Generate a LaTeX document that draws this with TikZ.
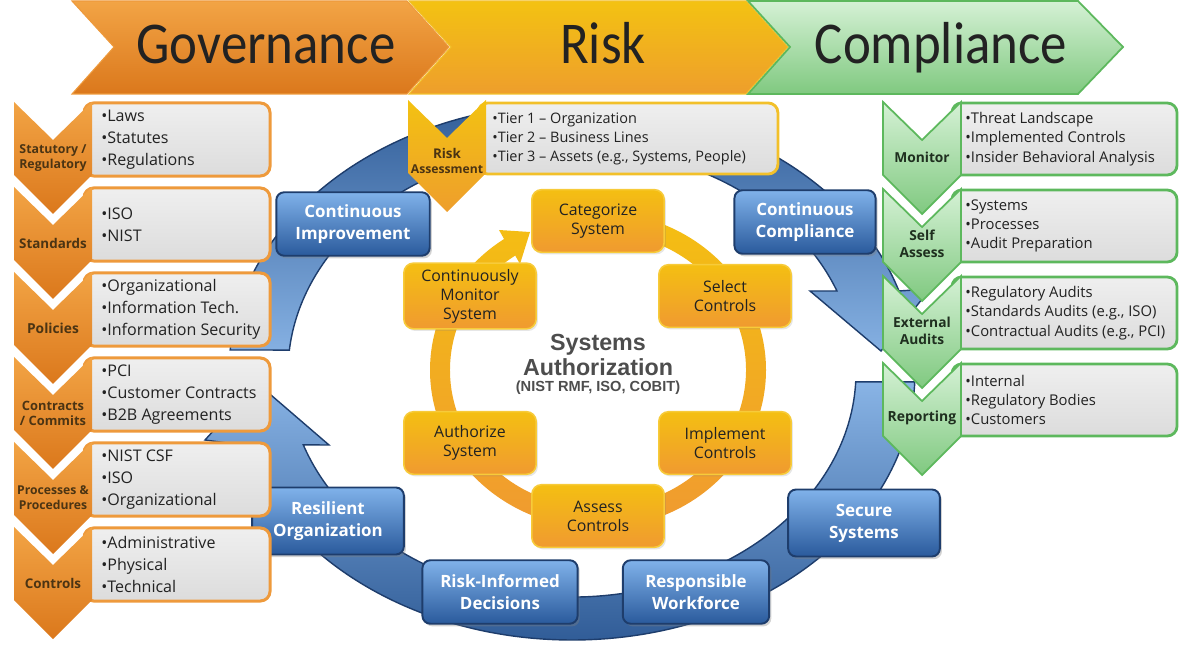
\documentclass[tikz,border=0pt]{standalone}
\usepackage{fontspec}
\setmainfont{Open Sans}
\newfontfamily\headfont{Carlito}
\newfontfamily\arialfont{Liberation Sans}
\usetikzlibrary{calc,shadows}

\definecolor{govtop}{HTML}{F2A445}
\definecolor{govbot}{HTML}{DB781C}
\definecolor{govedge}{HTML}{EE9A3C}
\definecolor{risktop}{HTML}{F3C212}
\definecolor{riskbot}{HTML}{EE9E2C}
\definecolor{riskedge}{HTML}{F2C02A}
\definecolor{comptop}{HTML}{D5F1D5}
\definecolor{compbot}{HTML}{80C980}
\definecolor{compedge}{HTML}{5DB85D}
\definecolor{boxtop}{HTML}{EFEFEF}
\definecolor{boxbot}{HTML}{DCDCDC}
\definecolor{bluetop}{HTML}{80B2EA}
\definecolor{bluebot}{HTML}{2A5A9C}
\definecolor{blueedge}{HTML}{1E3D6C}
\definecolor{ringdark}{HTML}{2F5B96}
\definecolor{ringlight}{HTML}{8CB7E8}
\definecolor{ybtop}{HTML}{F4BF12}
\definecolor{ybbot}{HTML}{F09A30}
\definecolor{ybedge}{HTML}{F7CB3A}
\definecolor{ink}{HTML}{222222}
\definecolor{govink}{HTML}{4B3413}
\definecolor{compink}{HTML}{1F2F1F}
\definecolor{centergray}{HTML}{4D4D4D}

\begin{document}
\begin{tikzpicture}[
            x=0.567pt, y=-0.567pt,
            govbar/.style = {top color=govtop, bottom color=govbot, draw=govedge, line width=0.6pt},
            riskbar/.style = {top color=risktop, bottom color=riskbot, draw=riskedge, line width=0.6pt},
            compbar/.style = {top color=comptop, bottom color=compbot, draw=compedge, line width=1pt},
            headtext/.style = {font=\headfont\fontsize{30}{30}\selectfont, text=ink, anchor=base, inner sep=0pt},
            govchev/.style = {top color=govtop, bottom color=govbot},
            riskchev/.style = {top color=risktop, bottom color=riskbot},
            compchev/.style = {top color=comptop, bottom color=compbot, draw=compedge, line width=1pt},
            chevlabel/.style = {align=center, inner sep=0pt},
            govbox/.style = {rounded corners=5.5pt, top color=boxtop, bottom color=boxbot,
                draw=govedge, line width=1.7pt, minimum width=105.5pt, minimum height=41.4pt},
            compbox/.style = {rounded corners=5.5pt, top color=boxtop, bottom color=boxbot,
                draw=compedge, line width=1.6pt, minimum width=127.6pt, minimum height=40.8pt},
            riskbox/.style = {rounded corners=5.5pt, top color=boxtop, bottom color=boxbot,
                draw=riskedge, line width=1.6pt, minimum width=170pt, minimum height=40.3pt},
            govlist/.style = {anchor=west, inner sep=0pt, align=left, text=ink,
                font=\fontsize{9.1}{12.5}\selectfont},
            complist/.style = {anchor=west, inner sep=0pt, align=left, text=ink,
                font=\fontsize{8.4}{11}\selectfont},
            risklist/.style = {anchor=west, inner sep=0pt, align=left, text=ink,
                font=\fontsize{8.2}{10.8}\selectfont},
            bluering/.style = {draw=blueedge, line width=0.8pt},
            ringfill/.style = {top color=ybtop, bottom color=ybbot},
            bluebox/.style = {rounded corners=4.5pt, top color=bluetop, bottom color=bluebot,
                draw=blueedge, line width=1.1pt, text=white, align=center,
                font=\bfseries\fontsize{9.6}{12.4}\selectfont, minimum height=36pt,
                drop shadow={opacity=0.35, shadow xshift=1.2pt, shadow yshift=-1.5pt}},
            ybox/.style = {rounded corners=5.5pt, top color=ybtop, bottom color=ybbot,
                draw=ybedge, line width=0.9pt, align=center, text=ink,
                minimum width=75pt, minimum height=35.5pt, font=\fontsize{9}{10.8}\selectfont,
                drop shadow={opacity=0.2, shadow xshift=1pt, shadow yshift=-1.2pt}}
            ]
            \useasboundingbox (0,0) rectangle (1194,646);

            % Header bar
            \path[govbar] (72,1) -- (407,1) -- (449,47) -- (407,94) -- (72,94) -- (114,47) -- cycle;
            \path[riskbar] (409,1) -- (746,1) -- (788,47) -- (746,94) -- (409,94) -- (451,47) -- cycle;
            \path[compbar] (748,1) -- (1078,1) -- (1123,47) -- (1078,94) -- (748,94) -- (790,47) -- cycle;
            \node[headtext] (govhead) at (266,64) {\scalebox{1}[1.12]{Governance}};
            \node[headtext] (riskhead) at (603,64) {\scalebox{1}[1.12]{Risk}};
            \node[headtext] (comphead) at (941,64) {\scalebox{1}[1.12]{Compliance}};

            % Blue outer cycle
            \coordinate (bc) at (572,372);
            \path[bluering, top color=ringdark, bottom color=ringlight]
                (bc) ++(184.7:343 and 268) arc[start angle=184.7, end angle=342.4, x radius=343, y radius=268]
                -- (930,289) -- (881,351) -- (810,291)
                -- ($(bc)+(338.9:284 and 225)$) arc[start angle=338.9, end angle=185.6, x radius=284, y radius=225]
                -- cycle;
            \path[bluering, top color=ringlight, bottom color=ringdark]
                (bc) ++(2.1:343 and 268) arc[start angle=2.1, end angle=164.2, x radius=343, y radius=268]
                -- (205,440) -- (257,383) -- (329,445)
                -- ($(bc)+(161.1:284 and 225)$) arc[start angle=161.1, end angle=2.5, x radius=284, y radius=225]
                -- cycle;

            % Yellow inner cycle
            \coordinate (yc) at (598,370);
            \path[ringfill]
                (yc) ++(-90:168 and 158) arc[start angle=-90, end angle=236, x radius=168, y radius=158]
                -- (499,230) -- (530,232) -- (520,264)
                -- ($(yc)+(236:148 and 138)$) arc[start angle=236, end angle=-90, x radius=148, y radius=138]
                -- cycle;

            % Steps
            \node[ybox] (categ) at (598,221) {Categorize\\System};
            \node[ybox] (selctl) at (725,296) {Select\\Controls};
            \node[ybox] (implctl) at (725,443) {Implement\\Controls};
            \node[ybox] (assctl) at (598,516) {Assess\\Controls};
            \node[ybox] (authsys) at (470,443) {Authorize\\System};
            \node[ybox] (monsys) at (470,296) {Continuously\\Monitor\\System};

            % Outcomes
            \node[bluebox, minimum width=87pt] (contimp) at (353,224) {Continuous\\Improvement};
            \node[bluebox, minimum width=80pt] (contcomp) at (805,222) {Continuous\\Compliance};
            \node[bluebox, minimum width=86pt, minimum height=38pt] (resorg) at (328,521) {Resilient\\Organization};
            \node[bluebox, minimum width=88pt] (riskdec) at (500,592) {Risk-Informed\\Decisions};
            \node[bluebox, minimum width=83pt] (respwf) at (696,592) {Responsible\\Workforce};
            \node[bluebox, minimum width=86pt, minimum height=38pt] (secsys) at (864,523) {Secure\\Systems};

            % Centre
            \node[font=\arialfont\bfseries\fontsize{13.2}{14.7}\selectfont, text=centergray, align=center]
                (sysauth) at (598,355) {Systems\\Authorization};
            \node[font=\arialfont\bfseries\fontsize{8.3}{9}\selectfont, text=centergray]
                (sysstd) at (598,388) {(NIST RMF, ISO, COBIT)};

            \newcommand{\dchev}[3]{\path[#3] (#1,#2) -- ++(39,38) -- ++(39,-38) -- ++(0,73) -- ++(-39,39) -- ++(-39,-39) -- cycle;}
            \newcommand{\govrow}[5]{
                \node[govbox] (#2box) at (177,#1+37.5) {};
                \dchev{14}{#1}{govchev}
                \node[chevlabel, text=govink, font=\bfseries\fontsize{#3}{8.6}\selectfont] (#2lbl) at (53,#1+56) {#4};
                \node[govlist] (#2list) at (101,#1+37.5) {#5};
            }
            \newcommand{\comprow}[5]{
                \node[compbox] (#2box) at (1064.5,#1+37) {};
                \dchev{883}{#1}{compchev}
                \node[chevlabel, text=compink, font=\bfseries\fontsize{#3}{9.6}\selectfont] (#2lbl) at (922,#1+55) {#4};
                \node[complist] (#2list) at (965,#1+37) {#5};
            }

            % Governance column
            \govrow{102}{stat}{7}{Statutory /\\Regulatory}{•Laws\\•Statutes\\•Regulations}
            \govrow{187}{std}{7.6}{Standards}{•ISO\\•NIST}
            \govrow{272}{pol}{7.8}{Policies}{•Organizational\\•Information Tech.\\•Information Security}
            \govrow{357}{contr}{7.3}{Contracts\\/ Commits}{•PCI\\•Customer Contracts\\•B2B Agreements}
            \govrow{442}{proc}{6.9}{Processes \&\\Procedures}{•NIST CSF\\•ISO\\•Organizational}
            \govrow{527}{ctl}{7.6}{Controls}{•Administrative\\•Physical\\•Technical}

            % Compliance column
            \comprow{102}{mon}{7.8}{Monitor}{•Threat Landscape\\•Implemented Controls\\•Insider Behavioral Analysis}
            \comprow{189}{self}{7.8}{Self\\Assess}{•Systems\\•Processes\\•Audit Preparation}
            \comprow{276}{ext}{7.8}{External\\Audits}{•Regulatory Audits\\•Standards Audits (e.g., ISO)\\•Contractual Audits (e.g., PCI)}
            \comprow{363}{rep}{7.9}{Reporting}{•Internal\\•Regulatory Bodies\\•Customers}

            % Risk assessment
            \node[riskbox] (tierbox) at (628,138.5) {};
            \dchev{408}{100}{riskchev}
            \node[chevlabel, text=govink, font=\bfseries\fontsize{6.9}{8.6}\selectfont] (risklbl) at (447,161) {\fontsize{7.6}{8.6}\selectfont Risk\\Assessment};
            \node[risklist] (tierlist) at (492,138.5) {•Tier 1 – Organization\\•Tier 2 – Business Lines\\•Tier 3 – Assets (e.g., Systems, People)};
        \end{tikzpicture}
\end{document}
